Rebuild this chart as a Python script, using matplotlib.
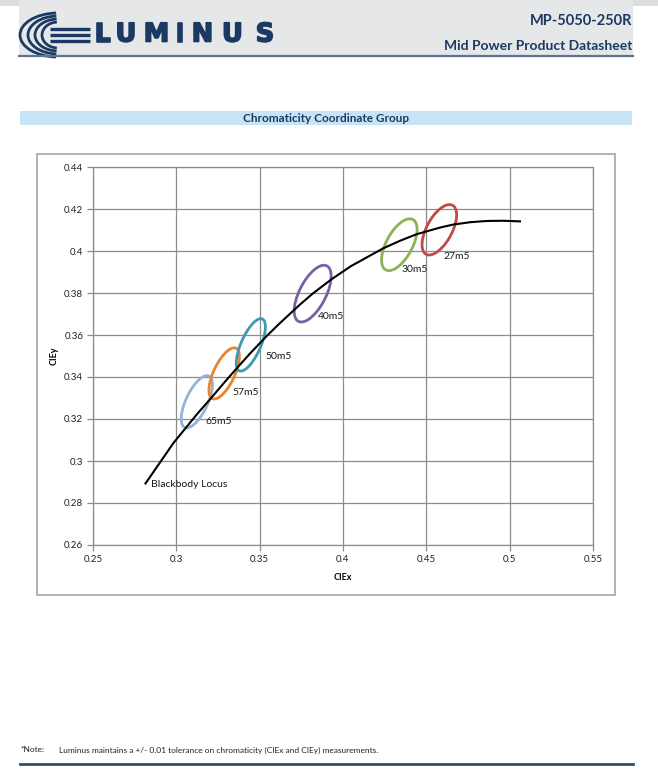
import matplotlib
matplotlib.use("Agg")
import matplotlib.pyplot as plt
import matplotlib.patheffects as pe
from matplotlib.patches import Ellipse, Rectangle, Arc

plt.rcParams['font.family'] = ['Lato', 'DejaVu Sans']

# ANSI bin centres and MacAdam-style ellipses (as drawn in the datasheet)
bins = ['65m5', '57m5', '50m5', '40m5', '30m5', '27m5']
cx = [0.3123, 0.3287, 0.3447, 0.3818, 0.4338, 0.4578]
cy = [0.3282, 0.3417, 0.3553, 0.3797, 0.4030, 0.4101]
semi_a = [0.0143, 0.0140, 0.0142, 0.0158, 0.0146, 0.0142]
semi_b = [0.0062, 0.0060, 0.0056, 0.0075, 0.0073, 0.0071]
tilt = [57, 57, 59, 54, 52, 52]
colors = ['#95B3D7', '#E9832D', '#3C9BAF', '#7B5FA0', '#8DB255', '#BF4A47']
label_x = [0.3172, 0.3334, 0.3532, 0.3850, 0.4354, 0.4600]
label_y = [0.3186, 0.3324, 0.3500, 0.3690, 0.3910, 0.3976]

# blackbody locus
locus_x = [0.2815, 0.2982, 0.3123, 0.3212, 0.3287, 0.3372, 0.3447, 0.3542, 0.3622,
           0.3742, 0.3818, 0.3932, 0.4050, 0.4242, 0.4343, 0.4442, 0.4584, 0.4662,
           0.4762, 0.4862, 0.4962, 0.5062]
locus_y = [0.2893, 0.3085, 0.3222, 0.3303, 0.3373, 0.3450, 0.3516, 0.3595, 0.3657,
           0.3745, 0.3797, 0.3866, 0.3929, 0.4013, 0.4049, 0.4080, 0.4112, 0.4126,
           0.4137, 0.4143, 0.4144, 0.4141]

x_ticks = [0.25, 0.3, 0.35, 0.4, 0.45, 0.5, 0.55]
y_ticks = [0.26, 0.28, 0.3, 0.32, 0.34, 0.36, 0.38, 0.4, 0.42, 0.44]

navy = '#1B3A63'
W, H = 658, 775
fig = plt.figure(figsize=(W / 100, H / 100), dpi=100)

# page decorations in pixel coordinates
page = fig.add_axes([0, 0, 1, 1], zorder=0)
page.set_xlim(0, W)
page.set_ylim(H, 0)
page.axis('off')

page.add_patch(Rectangle((0, 0), W, 6, color='#DCDDDF', lw=0))
page.add_patch(Rectangle((19, 0), 614, 55, color='#E6E7E8', lw=0))
page.plot([19, 633], [56, 56], color='#5B7592', lw=1.6)

# logo swoosh
for wdt, hgt in [(76, 44), (60, 38), (46, 32), (32, 26)]:
    page.add_patch(Arc((58, 35), wdt, hgt, theta1=95, theta2=265, color=navy, lw=2.0))
for yy in [29, 35, 41]:
    page.plot([50, 90], [yy, yy], color=navy, lw=2.4, solid_capstyle='butt')

letters = ['L', 'U', 'M', 'I', 'N', 'U', 'S']
letter_pos = [102.5, 126, 156.5, 180, 202.5, 232.5, 265]
for ch, xp in zip(letters, letter_pos):
    page.text(xp, 34.5, ch, ha='center', va='center', fontsize=18.5,
              fontweight='bold', color=navy, family='DejaVu Sans',
              path_effects=[pe.withStroke(linewidth=1.2, foreground=navy)])

page.text(632, 21, 'MP-5050-250R', ha='right', va='center', fontsize=10.5,
          fontweight='bold', color=navy)
page.text(632, 45.5, 'Mid Power Product Datasheet', ha='right', va='center',
          fontsize=10, fontweight='bold', color=navy)

page.add_patch(Rectangle((20, 111), 612, 14, color='#C6E4F6', lw=0))
page.text(326, 118, 'Chromaticity Coordinate Group', ha='center', va='center',
          fontsize=8.5, fontweight='bold', color=navy)

page.add_patch(Rectangle((37, 154), 578, 441, facecolor='white',
                         edgecolor='#A6A6A6', lw=1.2))

page.text(20, 750, '*Note:', ha='left', va='center', fontsize=6, color='#222222')
page.text(59, 750, 'Luminus maintains a +/- 0.01 tolerance on chromaticity '
          '(CIEx and CIEy) measurements.', ha='left', va='center',
          fontsize=6, color='#222222')
page.plot([20, 633], [764, 764], color='#2F4F73', lw=2)

# chart
ax = fig.add_axes([93 / W, 1 - 545 / H, 500 / W, 378 / H], zorder=1)
ax.set_xlim(0.25, 0.55)
ax.set_ylim(0.26, 0.44)
ax.set_xticks(x_ticks)
ax.set_xticklabels([f'{v:g}' for v in x_ticks])
ax.set_yticks(y_ticks)
ax.set_yticklabels([f'{v:g}' for v in y_ticks])
ax.grid(color='#8C8C8C', lw=0.9)
ax.set_axisbelow(True)
for s in ax.spines.values():
    s.set_color('#8C8C8C')
    s.set_linewidth(0.9)
ax.tick_params(direction='out', length=4, width=0.9, color='#8C8C8C',
               labelsize=7, pad=3, labelcolor='#222222')

for i in range(len(bins)):
    ax.add_patch(Ellipse((cx[i], cy[i]), 2 * semi_a[i], 2 * semi_b[i],
                         angle=tilt[i], fill=False, edgecolor=colors[i], lw=2.0))
    ax.text(label_x[i], label_y[i], bins[i], fontsize=7.5, ha='left',
            va='center', color='#1A1A1A')

ax.plot(locus_x, locus_y, color='black', lw=1.5)
ax.text(0.2848, 0.2890, 'Blackbody Locus', fontsize=7.5, ha='left',
        va='center', color='#1A1A1A')

ax.set_xlabel('CIEx', fontsize=6.5, fontweight='bold', labelpad=7)
ax.set_ylabel('CIEy', fontsize=6.5, fontweight='bold', labelpad=4)

fig.savefig('out.png', dpi=100)
